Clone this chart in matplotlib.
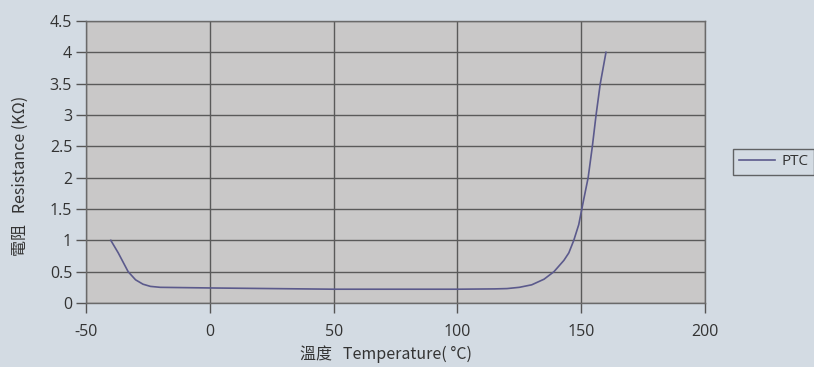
import matplotlib.pyplot as plt

# PTC resistance vs temperature
temp = [-40, -37, -35, -33, -30, -27, -24, -20, -10, 0, 25, 50, 75, 100, 115,
        120, 125, 130, 135, 139, 143, 145, 147, 149, 150, 151, 152.8, 154.5,
        156, 157.7, 160]
resistance = [1.0, 0.8, 0.65, 0.5, 0.37, 0.3, 0.265, 0.25, 0.245, 0.24, 0.23,
              0.22, 0.22, 0.22, 0.225, 0.23, 0.25, 0.29, 0.38, 0.5, 0.68, 0.8,
              1.0, 1.25, 1.45, 1.65, 2.0, 2.5, 3.0, 3.5, 4.0]

xticks = [-50, 0, 50, 100, 150, 200]
yticks = [0, 0.5, 1, 1.5, 2, 2.5, 3, 3.5, 4, 4.5]

plt.rcParams['font.family'] = ['Open Sans', 'Noto Sans CJK TC', 'DejaVu Sans']
cjk = ['Noto Sans CJK TC', 'Open Sans', 'DejaVu Sans']

fig = plt.figure(figsize=(8.14, 3.67), dpi=100, facecolor='#d3dbe3')
ax = fig.add_axes([0.1057, 0.1744, 0.7604, 0.7684])
ax.set_facecolor('#c9c8c8')

ax.plot(temp, resistance, color='#5b5a8c', lw=1.2, label='PTC')

ax.set_xlim(-50, 200)
ax.set_ylim(0, 4.5)
ax.set_xticks(xticks)
ax.set_yticks(yticks)
ax.set_xticklabels([str(v) for v in xticks])
ax.set_yticklabels(['0', '0.5', '1', '1.5', '2', '2.5', '3', '3.5', '4', '4.5'])
ax.tick_params(direction='out', length=7, width=1, color='#555555',
               labelsize=11.5, labelcolor='#333333')
ax.tick_params(axis='x', pad=8)
ax.tick_params(axis='y', pad=3)
ax.grid(True, color='#5a5a5a', lw=1)
ax.set_axisbelow(True)
for s in ax.spines.values():
    s.set_color('#6a6a6a')
    s.set_linewidth(1)

ax.set_xlabel('溫度   Temperature( °C)', fontsize=11.5, color='#333333', family=cjk)
ax.xaxis.set_label_coords(0.485, -0.15)
ax.set_ylabel('電阻   Resistance (KΩ)', fontsize=11.5, color='#333333', family=cjk)
ax.yaxis.set_label_coords(-0.092, 0.45)

leg = fig.legend(loc='center left', bbox_to_anchor=(0.901, 0.559),
                 frameon=True, fancybox=False, fontsize=11,
                 handlelength=2.4, borderpad=0.35, handletextpad=0.4,
                 borderaxespad=0)
leg.get_frame().set_edgecolor('#444444')
leg.get_frame().set_facecolor('#d3dbe3')
leg.get_frame().set_linewidth(1)
for t in leg.get_texts():
    t.set_color('#333333')

fig.savefig('out.png', dpi=100, facecolor=fig.get_facecolor())
